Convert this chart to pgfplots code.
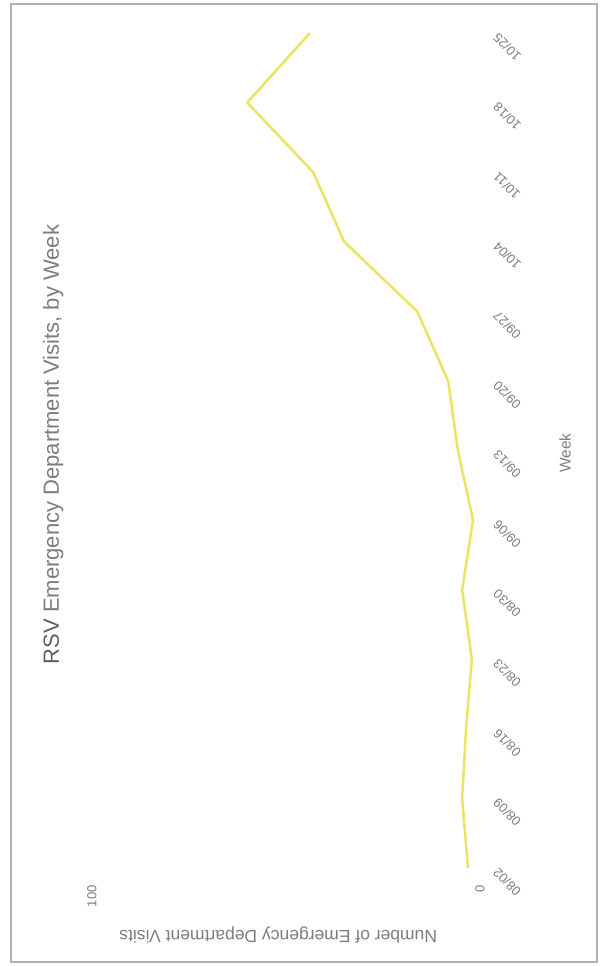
\documentclass[border=0pt]{standalone}
\usepackage{pgfplots}
\pgfplotsset{compat=1.18}
\usepackage{fontspec}
\setmainfont{Liberation Sans}
\definecolor{txt}{RGB}{125,125,125}
\definecolor{txtdark}{RGB}{95,95,95}
\definecolor{frame}{RGB}{175,175,175}
\definecolor{rsvline}{RGB}{232,222,70}
\pgfplotstableread{
wk visits
0 3.1
1 4.6
2 3.6
3 2.1
4 4.6
5 1.8
6 5.7
7 8.2
8 16.2
9 35.0
10 43.0
11 60.0
12 43.8
}\rsvdata
\begin{document}
\begin{tikzpicture}
\path (0,0) rectangle (604pt,966pt);
\draw[frame, line width=1.5pt] (11pt,4pt) rectangle (597pt,962pt);
\begin{axis}[
  at={(92pt,98pt)}, anchor=south west,
  scale only axis, width=388pt, height=835pt,
  x dir=reverse, xmin=0, xmax=100, ymin=0, ymax=12,
  axis line style={draw=none}, major tick length=0pt,
  /pgf/number format/assume math mode=true,
  xtick={0,100}, xticklabels={0,100},
  ytick={0,1,2,3,4,5,6,7,8,9,10,11,12},
  yticklabels={08/02,08/09,08/16,08/23,08/30,09/06,09/13,09/20,09/27,10/04,10/11,10/18,10/25},
  yticklabel pos=right,
  yticklabel shift=13pt,
  xticklabel shift=14pt,
  yticklabel style={rotate=135, anchor=east, font=\fontsize{13}{15}\selectfont, text=txt},
  xticklabel style={rotate=90, anchor=east, font=\fontsize{13}{15}\selectfont, text=txt},
  title={{\color{txtdark}RSV} Emergency Department Visits, by Week},
  title style={at={(axis description cs:-0.1,0.50)}, rotate=90, anchor=center, font=\fontsize{22}{26}\selectfont, text=txt},
  xlabel={Number of Emergency Department Visits},
  xlabel style={at={(axis description cs:0.48,-0.08)}, rotate=180, anchor=center, font=\fontsize{17.5}{20}\selectfont, text=txt},
  ylabel={Week},
  ylabel style={at={(axis description cs:1.219,0.497)}, rotate=0, anchor=center, font=\fontsize{15.5}{18}\selectfont, text=txt},
  clip=false,
]
\addplot[rsvline, line width=2.5pt, line join=round, opacity=0.85] table[x=visits, y=wk] {\rsvdata};
\end{axis}
\end{tikzpicture}
\end{document}
